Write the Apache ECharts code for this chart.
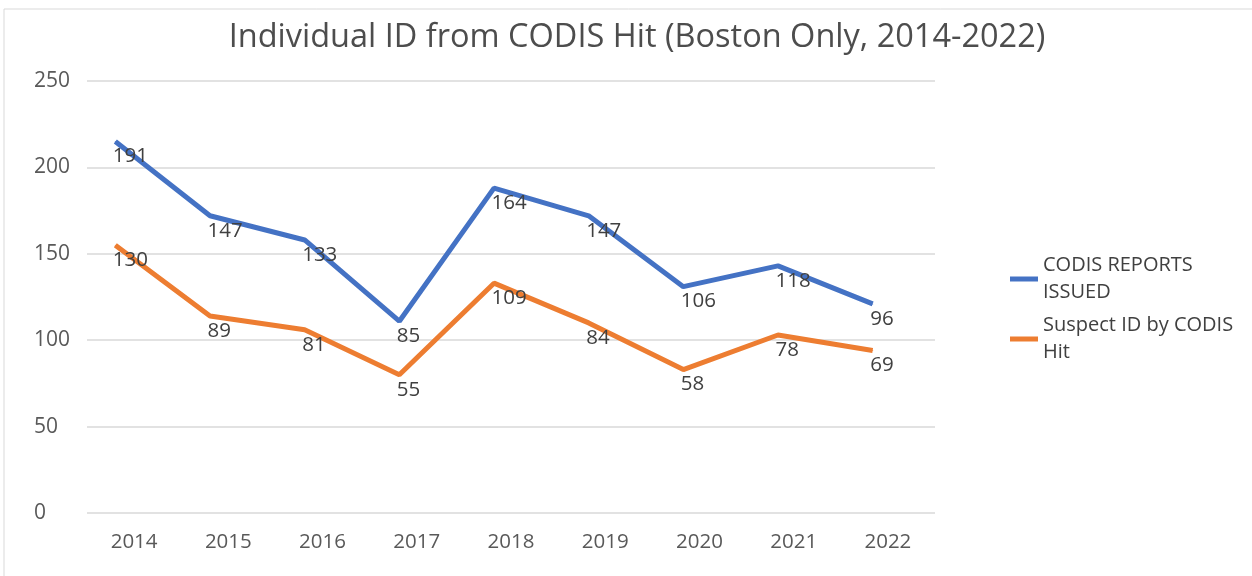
<!DOCTYPE html>
<html><head><meta charset="utf-8">
<script src="https://cdn.jsdelivr.net/npm/echarts@6/dist/echarts.min.js"></script>
<style>html,body{margin:0;padding:0;background:#fff}#c{width:1252px;height:576px}</style>
</head><body><div id="c"></div>
<script>
const years = ['2014','2015','2016','2017','2018','2019','2020','2021','2022'];
const yTicks = [0, 250, 50];
const codisPlotted = [215, 172, 158, 111, 188, 172, 131, 143, 121];
const codisLabels = [191, 147, 133, 85, 164, 147, 106, 118, 96];
const suspectPlotted = [155, 114, 106, 80, 133, 110, 83, 103, 94];
const suspectLabels = [130, 89, 81, 55, 109, 84, 58, 78, 69];
const seriesNames = ['CODIS REPORTS ISSUED', 'Suspect ID by CODIS Hit'];
const legendText = {'CODIS REPORTS ISSUED': 'CODIS REPORTS\nISSUED', 'Suspect ID by CODIS Hit': 'Suspect ID by CODIS\nHit'};

const FONT = 'Open Sans';
const chart = echarts.init(document.getElementById('c'));
function lbl(arr){
  return {show:true, position:[-2, 5], color:'#404040', fontSize:20.5, fontFamily:FONT,
    formatter: p => String(arr[p.dataIndex])};
}
chart.setOption({
  animation:false,
  textStyle:{fontFamily:FONT},
  title:{text:'Individual ID from CODIS Hit (Boston Only, 2014-2022)', left:632, textAlign:'center', top:16,
    textStyle:{fontFamily:FONT, fontSize:32.5, fontWeight:'normal', color:'#4d4d4d'}},
  graphic:[{type:'rect', shape:{x:4, y:9, width:1300, height:700}, style:{fill:'none', stroke:'#d9d9d9', lineWidth:1}, silent:true}],
  legend:{orient:'vertical', left:1005, top:247, itemWidth:28, itemHeight:5, itemGap:6,
    icon:'rect', data:seriesNames,
    formatter: n => legendText[n],
    textStyle:{fontFamily:FONT, fontSize:20, color:'#404040', lineHeight:27}},
  grid:[
    {left:87, right:317, top:81, bottom:63},
    {left:68, right:332, top:81, bottom:63}
  ],
  xAxis:[
    {type:'category', gridIndex:0, data:years, boundaryGap:true,
      axisLine:{show:false}, axisTick:{show:false},
      axisLabel:{color:'#595959', fontSize:20.5, fontFamily:FONT, margin:19}},
    {type:'category', gridIndex:1, data:years, boundaryGap:true, show:false}
  ],
  yAxis:[
    {type:'value', gridIndex:0, min:yTicks[0], max:yTicks[1], interval:yTicks[2],
      axisLine:{show:false}, axisTick:{show:false},
      axisLabel:{color:'#595959', fontSize:21, fontFamily:FONT, align:'left', margin:53},
      splitLine:{lineStyle:{color:'#d9d9d9', width:1.5}}},
    {type:'value', gridIndex:1, min:yTicks[0], max:yTicks[1], interval:yTicks[2], show:false, splitLine:{show:false}}
  ],
  series:[
    {name:seriesNames[0], type:'line', xAxisIndex:1, yAxisIndex:1, data:codisPlotted,
      symbol:'circle', symbolSize:1, color:'#4472C4',
      lineStyle:{width:5, color:'#4472C4'}, itemStyle:{color:'#4472C4'},
      label:lbl(codisLabels)},
    {name:seriesNames[1], type:'line', xAxisIndex:1, yAxisIndex:1, data:suspectPlotted,
      symbol:'circle', symbolSize:1, color:'#ED7D31',
      lineStyle:{width:5, color:'#ED7D31'}, itemStyle:{color:'#ED7D31'},
      label:lbl(suspectLabels)}
  ]
});
</script></body></html>
